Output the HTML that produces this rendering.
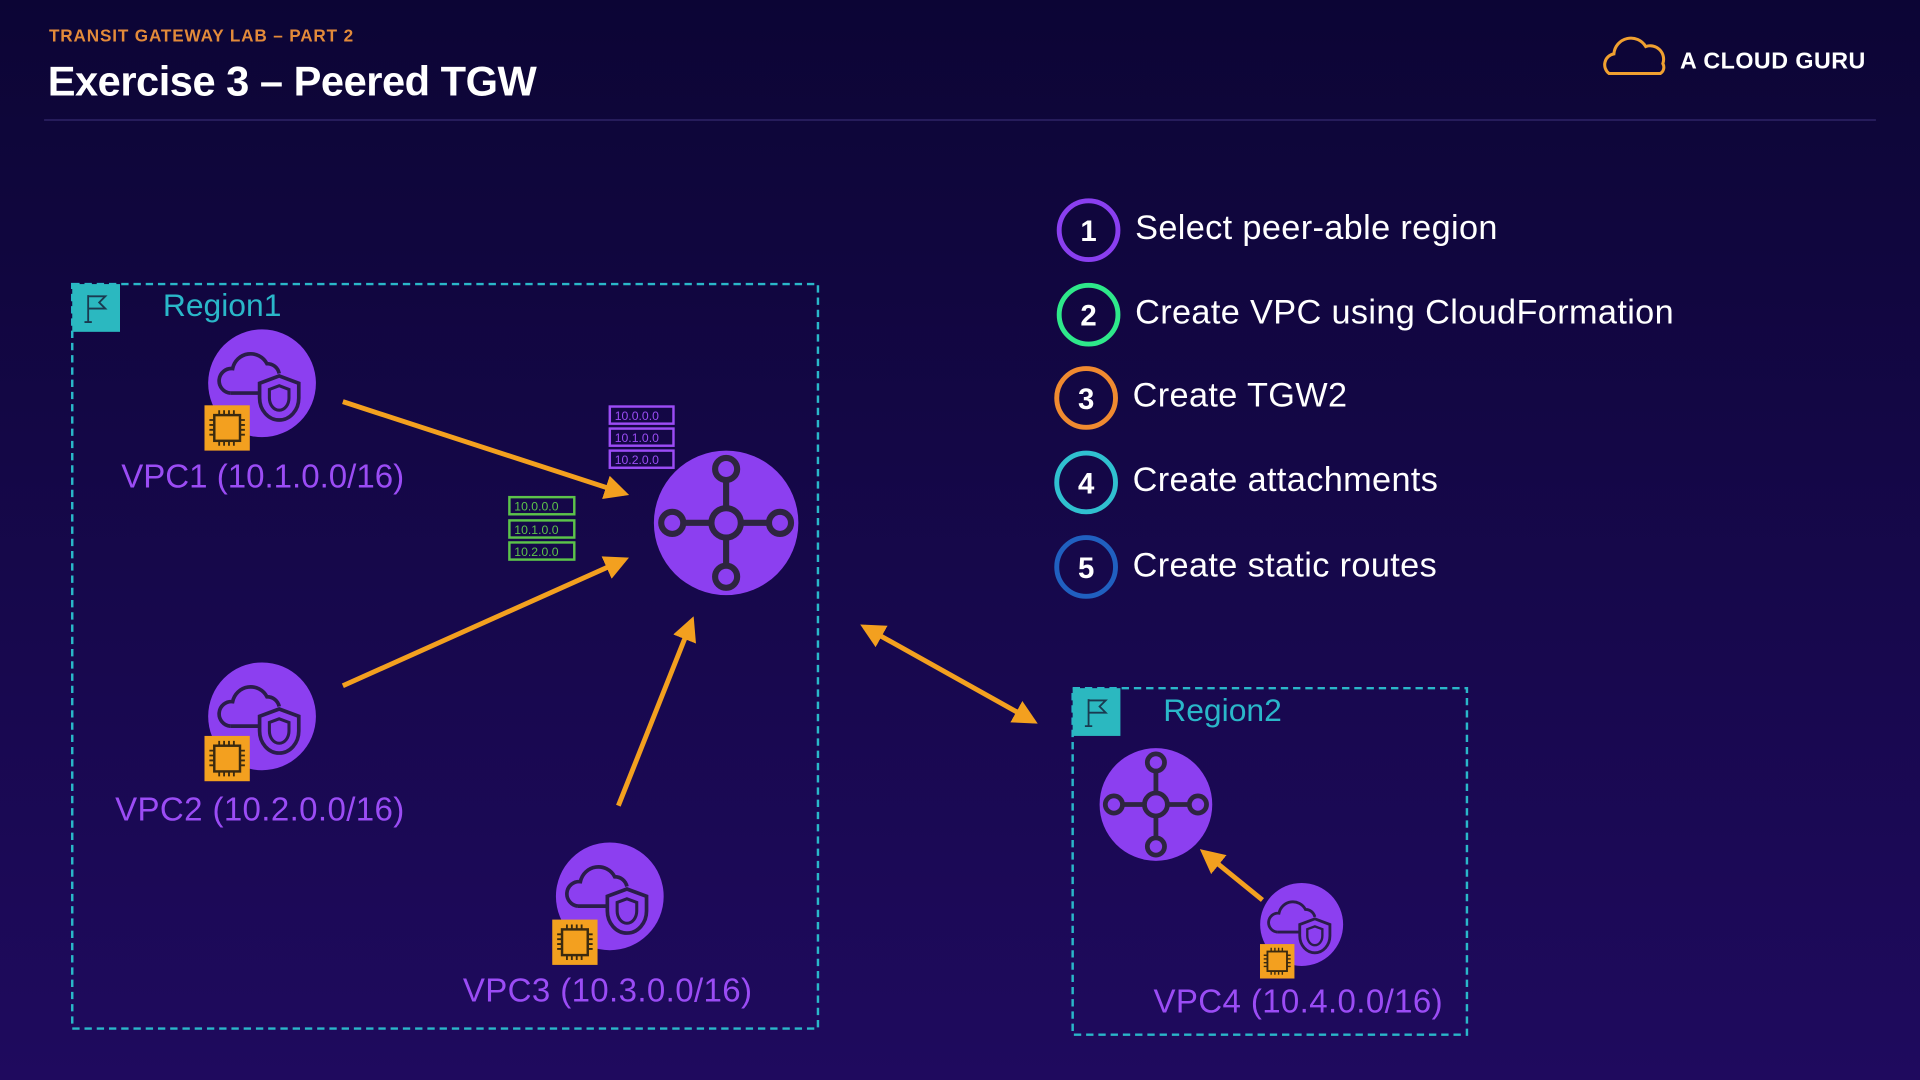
<!DOCTYPE html>
<html><head><meta charset="utf-8"><style>
html,body{margin:0;padding:0;width:1920px;height:1080px;overflow:hidden;background:#12073f}
svg{display:block}
text{font-family:"Liberation Sans",sans-serif}
</style></head><body>
<svg width="1920" height="1080" viewBox="0 0 1568 882" xmlns="http://www.w3.org/2000/svg">
<defs>
<linearGradient id="bg" x1="0" y1="0" x2="0" y2="1"><stop offset="0" stop-color="#0c0535"/><stop offset="1" stop-color="#1f0a5e"/></linearGradient>
<marker id="ah" viewBox="0 0 10 10" refX="8" refY="5" markerWidth="5" markerHeight="5" orient="auto-start-reverse"><path d="M0,0L10,5L0,10z" fill="#f3a01f"/></marker>
<g id="vpc"><circle r="44" fill="#8c3ff0"/>
<path d="M-26,8 a10,10 0 0 1 2,-20 a15,15 0 0 1 28,-4 a10,10 0 0 1 10,8" fill="none" stroke="#2a1d4a" stroke-width="3"/>
<path d="M-26,8 L-2,8" stroke="#2a1d4a" stroke-width="3"/>
<path d="M14,-6 l16,6 v12 a16,18 0 0 1 -16,18 a16,18 0 0 1 -16,-18 v-12z" fill="#8c3ff0" stroke="#2a1d4a" stroke-width="3"/>
<path d="M14,2 l8,3 v7 a8,10 0 0 1 -8,10 a8,10 0 0 1 -8,-10 v-7z" fill="none" stroke="#2a1d4a" stroke-width="2.5"/></g>
<g id="chip"><rect width="37" height="37" fill="#f3a01f"/><rect x="8" y="8" width="21" height="21" fill="none" stroke="#3a2a10" stroke-width="2"/>
<path d="M12,8v-4M16,8v-4M20,8v-4M24,8v-4M12,29v4M16,29v4M20,29v4M24,29v4M8,12h-4M8,16h-4M8,20h-4M8,24h-4M29,12h4M29,16h4M29,20h4M29,24h4" stroke="#3a2a10" stroke-width="1.5"/></g>
<g id="tgw" fill="none" stroke="#2e2540" stroke-width="5"><circle r="12"/><circle cy="-44" r="9"/><circle cy="44" r="9"/><circle cx="-44" r="9"/><circle cx="44" r="9"/><path d="M0,-12V-35M0,12V35M-12,0H-35M12,0H35"/></g>
<g id="flag"><rect width="39" height="39" fill="#2bb8c0"/><path d="M13,9v22M10,31h6M13,10h14l-5,5 5,5h-14" fill="none" stroke="#1a3a50" stroke-width="1.5"/></g>
</defs>
<rect width="1568" height="882" fill="url(#bg)"/>
<text x="40" y="34" font-size="14" font-weight="bold" fill="#e38a3a" letter-spacing="0.7">TRANSIT GATEWAY LAB – PART 2</text>
<text x="39" y="78" font-size="34" font-weight="bold" fill="#fff" letter-spacing="-0.4">Exercise 3 – Peered TGW</text>
<line x1="36" y1="98" x2="1532" y2="98" stroke="#2a2060" stroke-width="1.5"/>
<path d="M1314,60 a9,9 0 0 1 4,-16 a14,14 0 0 1 26,-6 a11,11 0 0 1 14,14 a6,6 0 0 1 -2,8z" fill="none" stroke="#f0a030" stroke-width="2.5"/>
<text x="1372" y="56" font-size="19" font-weight="bold" fill="#fff" letter-spacing="0.4">A CLOUD GURU</text>

<rect x="59" y="232" width="609" height="608" fill="none" stroke="#2ab7c9" stroke-width="2" stroke-dasharray="6,4"/>
<use href="#flag" x="59" y="232"/>
<text x="133" y="258" font-size="26" fill="#2ab7c9">Region1</text>

<use href="#vpc" x="214" y="313"/><use href="#chip" x="167" y="331"/>
<text x="99" y="398" font-size="27" fill="#9b4cf5">VPC1 (10.1.0.0/16)</text>
<use href="#vpc" x="214" y="585"/><use href="#chip" x="167" y="601"/>
<text x="94" y="670" font-size="27" fill="#9b4cf5" letter-spacing="0.3">VPC2 (10.2.0.0/16)</text>
<use href="#vpc" x="498" y="732"/><use href="#chip" x="451" y="751"/>
<text x="378" y="818" font-size="27" fill="#9b4cf5" letter-spacing="0.3">VPC3 (10.3.0.0/16)</text>

<circle cx="593" cy="427" r="59" fill="#8c3ff0"/><use href="#tgw" x="593" y="427"/>

<g font-size="10" font-family="Liberation Mono,monospace">
<g fill="none" stroke="#9b4cf5" stroke-width="2"><rect x="498" y="332" width="52" height="14"/><rect x="498" y="350" width="52" height="14"/><rect x="498" y="368" width="52" height="14"/></g>
<g fill="#9b4cf5"><text x="502" y="343">10.0.0.0</text><text x="502" y="361">10.1.0.0</text><text x="502" y="379">10.2.0.0</text></g>
<g fill="none" stroke="#5cc34a" stroke-width="2"><rect x="416" y="406" width="53" height="14"/><rect x="416" y="425" width="53" height="14"/><rect x="416" y="443" width="53" height="14"/></g>
<g fill="#5cc34a"><text x="420" y="417">10.0.0.0</text><text x="420" y="436">10.1.0.0</text><text x="420" y="454">10.2.0.0</text></g>
</g>

<g stroke="#f3a01f" stroke-width="4" fill="none" marker-end="url(#ah)">
<line x1="280" y1="328" x2="510" y2="403"/>
<line x1="280" y1="560" x2="510" y2="457"/>
<line x1="505" y1="658" x2="565" y2="507"/>
<line x1="706" y1="512" x2="844" y2="589" marker-start="url(#ah)"/>
<line x1="1031" y1="735" x2="983" y2="696"/>
</g>

<rect x="876" y="562" width="322" height="283" fill="none" stroke="#2ab7c9" stroke-width="2" stroke-dasharray="6,4"/>
<use href="#flag" x="876" y="562"/>
<text x="950" y="589" font-size="26" fill="#2ab7c9">Region2</text>
<circle cx="944" cy="657" r="46" fill="#8c3ff0"/><use href="#tgw" transform="translate(944,657) scale(0.78)"/>
<use href="#vpc" transform="translate(1063,755) scale(0.77)"/><use href="#chip" transform="translate(1029,771) scale(0.76)"/>
<text x="942" y="827" font-size="27" fill="#9b4cf5" letter-spacing="0.3">VPC4 (10.4.0.0/16)</text>

<g stroke-width="4" fill="none">
<circle cx="889" cy="188" r="24" stroke="#8a3ff0"/>
<circle cx="889" cy="257" r="24" stroke="#2ee88a"/>
<circle cx="887" cy="325" r="24" stroke="#f08a30"/>
<circle cx="887" cy="394" r="24" stroke="#30c0d0"/>
<circle cx="887" cy="463" r="24" stroke="#2060c0"/>
</g>
<g font-size="24" font-weight="bold" fill="#fff" text-anchor="middle">
<text x="889" y="197">1</text><text x="889" y="266">2</text><text x="887" y="334">3</text><text x="887" y="403">4</text><text x="887" y="472">5</text>
</g>
<g font-size="28" fill="#fff" letter-spacing="0.3">
<text x="927" y="195">Select peer-able region</text>
<text x="927" y="264">Create VPC using CloudFormation</text>
<text x="925" y="332">Create TGW2</text>
<text x="925" y="401">Create attachments</text>
<text x="925" y="471">Create static routes</text>
</g>
</svg>
</body></html>
